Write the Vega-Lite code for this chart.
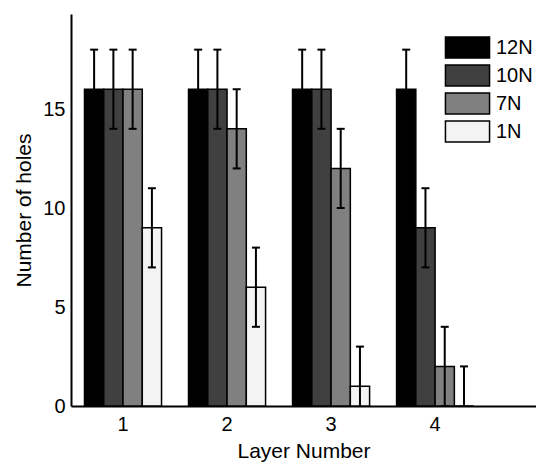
{
  "$schema": "https://vega.github.io/schema/vega-lite/v6.json",
  "width": 465,
  "height": 392,
  "autosize": {"type": "none"},
  "padding": {"left": 71, "top": 14, "right": 0, "bottom": 56},
  "background": "white",
  "config": {
    "view": {"stroke": null},
    "font": "Liberation Sans",
    "axis": {
      "grid": false,
      "ticks": false,
      "domainColor": "black",
      "domainWidth": 2,
      "labelColor": "black",
      "labelFontSize": 20,
      "titleColor": "black",
      "titleFontSize": 21,
      "titleFontWeight": "normal"
    },
    "legend": {
      "labelFontSize": 20,
      "labelColor": "black"
    }
  },
  "data": {
    "values": [
      {"layer": "1", "force": "12N", "value": 16, "lo": 14, "hi": 18},
      {"layer": "1", "force": "10N", "value": 16, "lo": 14, "hi": 18},
      {"layer": "1", "force": "7N", "value": 16, "lo": 14, "hi": 18},
      {"layer": "1", "force": "1N", "value": 9, "lo": 7, "hi": 11},
      {"layer": "2", "force": "12N", "value": 16, "lo": 14, "hi": 18},
      {"layer": "2", "force": "10N", "value": 16, "lo": 14, "hi": 18},
      {"layer": "2", "force": "7N", "value": 14, "lo": 12, "hi": 16},
      {"layer": "2", "force": "1N", "value": 6, "lo": 4, "hi": 8},
      {"layer": "3", "force": "12N", "value": 16, "lo": 14, "hi": 18},
      {"layer": "3", "force": "10N", "value": 16, "lo": 14, "hi": 18},
      {"layer": "3", "force": "7N", "value": 12, "lo": 10, "hi": 14},
      {"layer": "3", "force": "1N", "value": 1, "lo": -1, "hi": 3},
      {"layer": "4", "force": "12N", "value": 16, "lo": 14, "hi": 18},
      {"layer": "4", "force": "10N", "value": 9, "lo": 7, "hi": 11},
      {"layer": "4", "force": "7N", "value": 2, "lo": 0, "hi": 4},
      {"layer": "4", "force": "1N", "value": 0, "lo": -2, "hi": 2}
    ]
  },
  "encoding": {
    "x": {
      "field": "layer",
      "type": "nominal",
      "scale": {"paddingInner": 0, "paddingOuter": 0.235, "align": 0},
      "axis": {"labelAngle": 0, "labelPadding": 8, "titlePadding": 6},
      "title": "Layer Number"
    },
    "xOffset": {
      "field": "force",
      "type": "nominal",
      "sort": ["12N", "10N", "7N", "1N"],
      "scale": {"paddingInner": 0, "paddingOuter": 0.7}
    }
  },
  "layer": [
    {
      "mark": {"type": "bar", "stroke": "black", "strokeWidth": 1.5, "opacity": 1},
      "encoding": {
        "y": {
          "field": "value",
          "type": "quantitative",
          "scale": {"domain": [0, 19.8], "nice": false},
          "axis": {"values": [0, 5, 10, 15], "labelPadding": 6, "titlePadding": 8},
          "title": "Number of holes"
        },
        "color": {
          "field": "force",
          "type": "nominal",
          "sort": ["12N", "10N", "7N", "1N"],
          "scale": {"domain": ["12N", "10N", "7N", "1N"], "range": ["#000000", "#404040", "#808080", "#f3f3f3"]},
          "legend": {
            "title": null,
            "orient": "none",
            "legendX": 385,
            "legendY": 22,
            "padding": 0,
            "symbolType": "M-2.1,-1H2.1V1H-2.1Z",
            "symbolSize": 441,
            "symbolStrokeColor": "black",
            "symbolStrokeWidth": 1.5,
            "symbolOpacity": 1,
            "labelOffset": 17,
            "rowPadding": 1
          }
        }
      }
    },
    {
      "mark": {"type": "rule", "color": "black", "strokeWidth": 2, "clip": true},
      "encoding": {
        "y": {"field": "lo", "type": "quantitative"},
        "y2": {"field": "hi"}
      }
    },
    {
      "mark": {"type": "tick", "color": "black", "size": 8, "thickness": 2, "clip": true, "opacity": 1},
      "encoding": {
        "y": {"field": "hi", "type": "quantitative"}
      }
    },
    {
      "mark": {"type": "tick", "color": "black", "size": 8, "thickness": 2, "clip": true, "opacity": 1},
      "encoding": {
        "y": {"field": "lo", "type": "quantitative"}
      }
    }
  ]
}
